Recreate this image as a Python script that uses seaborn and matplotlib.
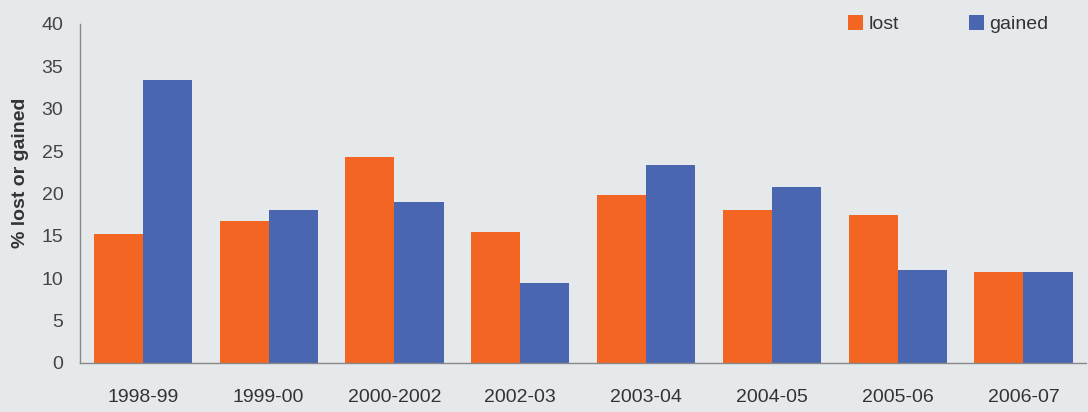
import matplotlib
matplotlib.use("Agg")
import matplotlib.pyplot as plt
import seaborn as sns
import pandas as pd
import numpy as np
from matplotlib.patches import Patch

categories = ["1998-99", "1999-00", "2000-2002", "2002-03", "2003-04", "2004-05", "2005-06", "2006-07"]
lost = [15.2, 16.7, 24.3, 15.5, 19.8, 18.1, 17.4, 10.7]
gained = [33.4, 18.1, 19.0, 9.4, 23.4, 20.8, 11.0, 10.7]
series = ["lost", "gained"]
colors = {"lost": "#f26522", "gained": "#4a66b0"}
yticks = [0, 5, 10, 15, 20, 25, 30, 35, 40]

df = pd.DataFrame({
    "period": categories * 2,
    "value": lost + gained,
    "series": ["lost"] * len(categories) + ["gained"] * len(categories),
})

bg = "#e6e9ec"
sns.set_theme(style="white")
plt.rcParams["font.family"] = ["Liberation Sans", "DejaVu Sans"]

fig = plt.figure(figsize=(10.88, 4.12), dpi=100, facecolor=bg)
ax = fig.add_axes([0.0735, 0.119, 0.925, 0.823])
ax.set_facecolor(bg)

sns.barplot(data=df, x="period", y="value", hue="series", hue_order=series,
            palette=colors, width=0.78, saturation=1, ax=ax, legend=False,
            edgecolor="none", linewidth=0)

fs = 14
ax.set_ylim(0, 40)
ax.set_xlim(-0.5, len(categories) - 0.5)
ax.set_yticks(yticks)
ax.set_yticklabels([str(t) for t in yticks], fontsize=fs, color="#444444")
ax.set_xticks(range(len(categories)))
ax.set_xticklabels(categories, fontsize=fs, color="#333333")
ax.set_xticks(np.arange(-0.5, len(categories), 1.0), minor=True)
ax.tick_params(axis="x", which="major", length=0, pad=19)
ax.tick_params(axis="x", which="minor", length=5, color="#888888", direction="out", width=1)
ax.tick_params(axis="y", which="major", length=5, color="#888888", direction="out", width=1, pad=7)
ax.set_xlabel("")
ax.set_ylabel("% lost or gained", fontsize=14, fontweight="bold", color="#333333")
ax.yaxis.set_label_coords(-0.051, 0.56)

for side in ["top", "right"]:
    ax.spines[side].set_visible(False)
ax.spines["left"].set_color("#888888")
ax.spines["bottom"].set_color("#888888")
ax.spines["left"].set_linewidth(1)
ax.spines["bottom"].set_linewidth(1)

handles = [Patch(facecolor=colors[s], edgecolor="none", label=s) for s in series]
leg = ax.legend(handles=handles, ncol=2, loc="center left", bbox_to_anchor=(0.763, 1.0),
                frameon=False, fontsize=fs, handlelength=0.8, handleheight=0.8,
                handletextpad=0.25, columnspacing=3.6, borderpad=0, borderaxespad=0)
for t in leg.get_texts():
    t.set_color("#333333")

fig.savefig("out.png", dpi=100, facecolor=bg)
